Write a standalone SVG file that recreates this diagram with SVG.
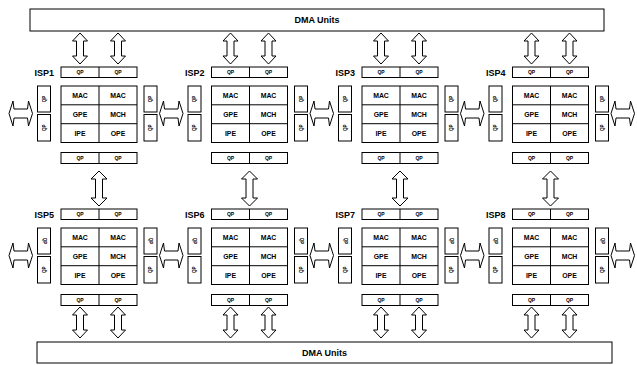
<svg xmlns="http://www.w3.org/2000/svg" xmlns:xlink="http://www.w3.org/1999/xlink" width="637" height="365" viewBox="0 0 637 365">
<style>
rect,path.ln{fill:#fff;stroke:#000;stroke-width:1}
path.ln{fill:none}
.arr{fill:#fff;stroke:#000;stroke-width:1}
text{font-family:"Liberation Sans",Arial,sans-serif;font-weight:bold;fill:#000;text-anchor:middle}
.lbl{font-size:9px;text-anchor:end}
.qp{font-size:5px}
.cell{font-size:6.9px}
.vqp{font-size:4.5px}
.dma{font-size:9px}
</style>
<defs>
<path id="va31" d="M0,0 L7.5,8 L3.5,8 L3.5,23 L7.5,23 L0,31 L-7.5,23 L-3.5,23 L-3.5,8 L-7.5,8 Z"/>
<path id="va35" d="M0,0 L8,8 L3.5,8 L3.5,27 L8,27 L0,35 L-8,27 L-3.5,27 L-3.5,8 L-8,8 Z"/>
<path id="ha" d="M0,0 L4,-12.5 L5,-4.5 L18.5,-4.5 L19.5,-12.5 L23.5,0 L19.5,12.5 L18.5,4.5 L5,4.5 L4,12.5 Z"/>
</defs>

<g id="dma-top"><rect x="30" y="9" width="574" height="22"/><text class="dma" x="317" y="23.3">DMA Units</text></g>
<g id="dma-bottom"><rect x="37" y="342" width="575" height="21"/><text class="dma" x="324.5" y="355.8">DMA Units</text></g>

<g id="isp1" transform="translate(61,0)">
<text class="lbl" x="-7" y="76">ISP1</text>
<rect x="0" y="67" width="76" height="10.5"/><path class="ln" d="M38,67V77.5"/>
<text class="qp" x="19" y="74">QP</text><text class="qp" x="57" y="74">QP</text>
<rect x="0" y="86" width="76" height="56.5"/><path class="ln" d="M38,86V142.5M0,104.8H76M0,123.7H76"/>
<text class="cell" x="19" y="97.7">MAC</text><text class="cell" x="57" y="97.7">MAC</text>
<text class="cell" x="19" y="116.6">GPE</text><text class="cell" x="57" y="116.6">MCH</text>
<text class="cell" x="19" y="135.5">IPE</text><text class="cell" x="57" y="135.5">OPE</text>
<rect x="0" y="152.5" width="76" height="11"/><path class="ln" d="M38,152.5V163.5"/>
<text class="qp" x="19" y="159.8">QP</text><text class="qp" x="57" y="159.8">QP</text>
<rect x="-23.5" y="86" width="13" height="26"/><rect x="-23.5" y="114.5" width="13" height="26.5"/>
<rect x="83" y="86" width="13" height="26"/><rect x="83" y="114.5" width="13" height="26.5"/>
<text class="vqp" transform="translate(-15.5,99) rotate(-90)">QP</text><text class="vqp" transform="translate(-15.5,127.7) rotate(-90)">QP</text>
<text class="vqp" transform="translate(91,99) rotate(-90)">QP</text><text class="vqp" transform="translate(91,127.7) rotate(-90)">QP</text>
</g>

<g id="isp2" transform="translate(211.5,0)">
<text class="lbl" x="-7" y="76">ISP2</text>
<rect x="0" y="67" width="76" height="10.5"/><path class="ln" d="M38,67V77.5"/>
<text class="qp" x="19" y="74">QP</text><text class="qp" x="57" y="74">QP</text>
<rect x="0" y="86" width="76" height="56.5"/><path class="ln" d="M38,86V142.5M0,104.8H76M0,123.7H76"/>
<text class="cell" x="19" y="97.7">MAC</text><text class="cell" x="57" y="97.7">MAC</text>
<text class="cell" x="19" y="116.6">GPE</text><text class="cell" x="57" y="116.6">MCH</text>
<text class="cell" x="19" y="135.5">IPE</text><text class="cell" x="57" y="135.5">OPE</text>
<rect x="0" y="152.5" width="76" height="11"/><path class="ln" d="M38,152.5V163.5"/>
<text class="qp" x="19" y="159.8">QP</text><text class="qp" x="57" y="159.8">QP</text>
<rect x="-23.5" y="86" width="13" height="26"/><rect x="-23.5" y="114.5" width="13" height="26.5"/>
<rect x="83" y="86" width="13" height="26"/><rect x="83" y="114.5" width="13" height="26.5"/>
<text class="vqp" transform="translate(-15.5,99) rotate(-90)">QP</text><text class="vqp" transform="translate(-15.5,127.7) rotate(-90)">QP</text>
<text class="vqp" transform="translate(91,99) rotate(-90)">QP</text><text class="vqp" transform="translate(91,127.7) rotate(-90)">QP</text>
</g>

<g id="isp3" transform="translate(362,0)">
<text class="lbl" x="-7" y="76">ISP3</text>
<rect x="0" y="67" width="76" height="10.5"/><path class="ln" d="M38,67V77.5"/>
<text class="qp" x="19" y="74">QP</text><text class="qp" x="57" y="74">QP</text>
<rect x="0" y="86" width="76" height="56.5"/><path class="ln" d="M38,86V142.5M0,104.8H76M0,123.7H76"/>
<text class="cell" x="19" y="97.7">MAC</text><text class="cell" x="57" y="97.7">MAC</text>
<text class="cell" x="19" y="116.6">GPE</text><text class="cell" x="57" y="116.6">MCH</text>
<text class="cell" x="19" y="135.5">IPE</text><text class="cell" x="57" y="135.5">OPE</text>
<rect x="0" y="152.5" width="76" height="11"/><path class="ln" d="M38,152.5V163.5"/>
<text class="qp" x="19" y="159.8">QP</text><text class="qp" x="57" y="159.8">QP</text>
<rect x="-23.5" y="86" width="13" height="26"/><rect x="-23.5" y="114.5" width="13" height="26.5"/>
<rect x="83" y="86" width="13" height="26"/><rect x="83" y="114.5" width="13" height="26.5"/>
<text class="vqp" transform="translate(-15.5,99) rotate(-90)">QP</text><text class="vqp" transform="translate(-15.5,127.7) rotate(-90)">QP</text>
<text class="vqp" transform="translate(91,99) rotate(-90)">QP</text><text class="vqp" transform="translate(91,127.7) rotate(-90)">QP</text>
</g>

<g id="isp4" transform="translate(512.5,0)">
<text class="lbl" x="-7" y="76">ISP4</text>
<rect x="0" y="67" width="76" height="10.5"/><path class="ln" d="M38,67V77.5"/>
<text class="qp" x="19" y="74">QP</text><text class="qp" x="57" y="74">QP</text>
<rect x="0" y="86" width="76" height="56.5"/><path class="ln" d="M38,86V142.5M0,104.8H76M0,123.7H76"/>
<text class="cell" x="19" y="97.7">MAC</text><text class="cell" x="57" y="97.7">MAC</text>
<text class="cell" x="19" y="116.6">GPE</text><text class="cell" x="57" y="116.6">MCH</text>
<text class="cell" x="19" y="135.5">IPE</text><text class="cell" x="57" y="135.5">OPE</text>
<rect x="0" y="152.5" width="76" height="11"/><path class="ln" d="M38,152.5V163.5"/>
<text class="qp" x="19" y="159.8">QP</text><text class="qp" x="57" y="159.8">QP</text>
<rect x="-23.5" y="86" width="13" height="26"/><rect x="-23.5" y="114.5" width="13" height="26.5"/>
<rect x="83" y="86" width="13" height="26"/><rect x="83" y="114.5" width="13" height="26.5"/>
<text class="vqp" transform="translate(-15.5,99) rotate(-90)">QP</text><text class="vqp" transform="translate(-15.5,127.7) rotate(-90)">QP</text>
<text class="vqp" transform="translate(91,99) rotate(-90)">QP</text><text class="vqp" transform="translate(91,127.7) rotate(-90)">QP</text>
</g>

<g id="isp5" transform="translate(61,142)">
<text class="lbl" x="-7" y="76">ISP5</text>
<rect x="0" y="67" width="76" height="10.5"/><path class="ln" d="M38,67V77.5"/>
<text class="qp" x="19" y="74">QP</text><text class="qp" x="57" y="74">QP</text>
<rect x="0" y="86" width="76" height="56.5"/><path class="ln" d="M38,86V142.5M0,104.8H76M0,123.7H76"/>
<text class="cell" x="19" y="97.7">MAC</text><text class="cell" x="57" y="97.7">MAC</text>
<text class="cell" x="19" y="116.6">GPE</text><text class="cell" x="57" y="116.6">MCH</text>
<text class="cell" x="19" y="135.5">IPE</text><text class="cell" x="57" y="135.5">OPE</text>
<rect x="0" y="152.5" width="76" height="11"/><path class="ln" d="M38,152.5V163.5"/>
<text class="qp" x="19" y="159.8">QP</text><text class="qp" x="57" y="159.8">QP</text>
<rect x="-23.5" y="86" width="13" height="26"/><rect x="-23.5" y="114.5" width="13" height="26.5"/>
<rect x="83" y="86" width="13" height="26"/><rect x="83" y="114.5" width="13" height="26.5"/>
<text class="vqp" transform="translate(-18.5,99) rotate(90)">QP</text><text class="vqp" transform="translate(-15.5,127.7) rotate(-90)">QP</text>
<text class="vqp" transform="translate(88,99) rotate(90)">QP</text><text class="vqp" transform="translate(91,127.7) rotate(-90)">QP</text>
</g>

<g id="isp6" transform="translate(211.5,142)">
<text class="lbl" x="-7" y="76">ISP6</text>
<rect x="0" y="67" width="76" height="10.5"/><path class="ln" d="M38,67V77.5"/>
<text class="qp" x="19" y="74">QP</text><text class="qp" x="57" y="74">QP</text>
<rect x="0" y="86" width="76" height="56.5"/><path class="ln" d="M38,86V142.5M0,104.8H76M0,123.7H76"/>
<text class="cell" x="19" y="97.7">MAC</text><text class="cell" x="57" y="97.7">MAC</text>
<text class="cell" x="19" y="116.6">GPE</text><text class="cell" x="57" y="116.6">MCH</text>
<text class="cell" x="19" y="135.5">IPE</text><text class="cell" x="57" y="135.5">OPE</text>
<rect x="0" y="152.5" width="76" height="11"/><path class="ln" d="M38,152.5V163.5"/>
<text class="qp" x="19" y="159.8">QP</text><text class="qp" x="57" y="159.8">QP</text>
<rect x="-23.5" y="86" width="13" height="26"/><rect x="-23.5" y="114.5" width="13" height="26.5"/>
<rect x="83" y="86" width="13" height="26"/><rect x="83" y="114.5" width="13" height="26.5"/>
<text class="vqp" transform="translate(-18.5,99) rotate(90)">QP</text><text class="vqp" transform="translate(-15.5,127.7) rotate(-90)">QP</text>
<text class="vqp" transform="translate(88,99) rotate(90)">QP</text><text class="vqp" transform="translate(91,127.7) rotate(-90)">QP</text>
</g>

<g id="isp7" transform="translate(362,142)">
<text class="lbl" x="-7" y="76">ISP7</text>
<rect x="0" y="67" width="76" height="10.5"/><path class="ln" d="M38,67V77.5"/>
<text class="qp" x="19" y="74">QP</text><text class="qp" x="57" y="74">QP</text>
<rect x="0" y="86" width="76" height="56.5"/><path class="ln" d="M38,86V142.5M0,104.8H76M0,123.7H76"/>
<text class="cell" x="19" y="97.7">MAC</text><text class="cell" x="57" y="97.7">MAC</text>
<text class="cell" x="19" y="116.6">GPE</text><text class="cell" x="57" y="116.6">MCH</text>
<text class="cell" x="19" y="135.5">IPE</text><text class="cell" x="57" y="135.5">OPE</text>
<rect x="0" y="152.5" width="76" height="11"/><path class="ln" d="M38,152.5V163.5"/>
<text class="qp" x="19" y="159.8">QP</text><text class="qp" x="57" y="159.8">QP</text>
<rect x="-23.5" y="86" width="13" height="26"/><rect x="-23.5" y="114.5" width="13" height="26.5"/>
<rect x="83" y="86" width="13" height="26"/><rect x="83" y="114.5" width="13" height="26.5"/>
<text class="vqp" transform="translate(-18.5,99) rotate(90)">QP</text><text class="vqp" transform="translate(-15.5,127.7) rotate(-90)">QP</text>
<text class="vqp" transform="translate(88,99) rotate(90)">QP</text><text class="vqp" transform="translate(91,127.7) rotate(-90)">QP</text>
</g>

<g id="isp8" transform="translate(512.5,142)">
<text class="lbl" x="-7" y="76">ISP8</text>
<rect x="0" y="67" width="76" height="10.5"/><path class="ln" d="M38,67V77.5"/>
<text class="qp" x="19" y="74">QP</text><text class="qp" x="57" y="74">QP</text>
<rect x="0" y="86" width="76" height="56.5"/><path class="ln" d="M38,86V142.5M0,104.8H76M0,123.7H76"/>
<text class="cell" x="19" y="97.7">MAC</text><text class="cell" x="57" y="97.7">MAC</text>
<text class="cell" x="19" y="116.6">GPE</text><text class="cell" x="57" y="116.6">MCH</text>
<text class="cell" x="19" y="135.5">IPE</text><text class="cell" x="57" y="135.5">OPE</text>
<rect x="0" y="152.5" width="76" height="11"/><path class="ln" d="M38,152.5V163.5"/>
<text class="qp" x="19" y="159.8">QP</text><text class="qp" x="57" y="159.8">QP</text>
<rect x="-23.5" y="86" width="13" height="26"/><rect x="-23.5" y="114.5" width="13" height="26.5"/>
<rect x="83" y="86" width="13" height="26"/><rect x="83" y="114.5" width="13" height="26.5"/>
<text class="vqp" transform="translate(-18.5,99) rotate(90)">QP</text><text class="vqp" transform="translate(-15.5,127.7) rotate(-90)">QP</text>
<text class="vqp" transform="translate(88,99) rotate(90)">QP</text><text class="vqp" transform="translate(91,127.7) rotate(-90)">QP</text>
</g>

<g id="connectors" class="arr">
<use href="#va31" x="80" y="33"/><use href="#va31" x="118" y="33"/>
<use href="#va31" x="230.5" y="33"/><use href="#va31" x="268.5" y="33"/>
<use href="#va31" x="381" y="33"/><use href="#va31" x="419" y="33"/>
<use href="#va31" x="531.5" y="33"/><use href="#va31" x="569.5" y="33"/>
<use href="#va35" x="99" y="171"/><use href="#va35" x="249.5" y="171"/>
<use href="#va35" x="400" y="171"/><use href="#va35" x="550.5" y="171"/>
<use href="#va31" x="80" y="307"/><use href="#va31" x="118" y="307"/>
<use href="#va31" x="230.5" y="307"/><use href="#va31" x="268.5" y="307"/>
<use href="#va31" x="381" y="307"/><use href="#va31" x="419" y="307"/>
<use href="#va31" x="531.5" y="307"/><use href="#va31" x="569.5" y="307"/>
<use href="#ha" x="9" y="113.5"/><use href="#ha" x="159.5" y="113.5"/><use href="#ha" x="310" y="113.5"/><use href="#ha" x="460.5" y="113.5"/><use href="#ha" x="611" y="113.5"/>
<use href="#ha" x="9" y="255.5"/><use href="#ha" x="159.5" y="255.5"/><use href="#ha" x="310" y="255.5"/><use href="#ha" x="460.5" y="255.5"/><use href="#ha" x="611" y="255.5"/>
</g>
</svg>
